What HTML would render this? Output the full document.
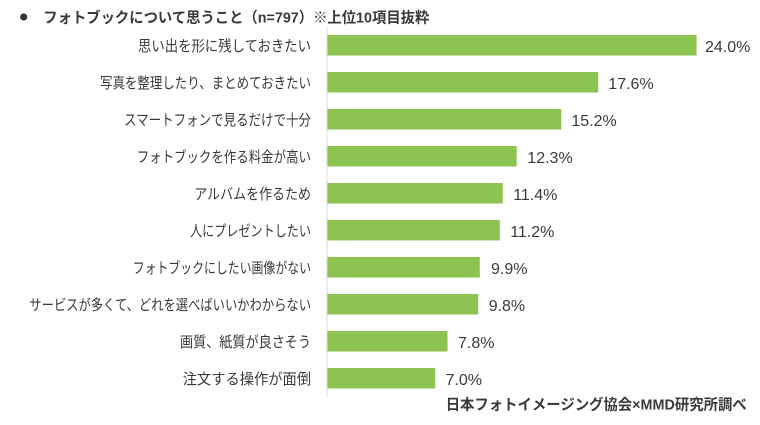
<!DOCTYPE html>
<html><head><meta charset="utf-8"><style>
html,body{margin:0;padding:0;background:#fff;}
svg{display:block;}
text{font-family:"Liberation Sans","Noto Sans CJK JP",sans-serif;fill:#3a3a3a;}
</style></head><body>
<svg width="760" height="425" viewBox="0 0 760 425" xmlns="http://www.w3.org/2000/svg">
<rect width="760" height="425" fill="#fff"/>
<circle cx="23.7" cy="17" r="3.6" fill="#333"/>
<text x="43.3" y="22.5" font-size="15" font-weight="bold" textLength="386" lengthAdjust="spacingAndGlyphs">フォトブックについて思うこと（n=797）※上位10項目抜粋</text>
<line x1="327" y1="27" x2="327" y2="397" stroke="#d9d9d9" stroke-width="1"/>
<g fill="#8dc351">
<rect x="327.5" y="35" width="369.1" height="20.5"/>
<rect x="327.5" y="72" width="270.7" height="20.5"/>
<rect x="327.5" y="109" width="233.8" height="20.5"/>
<rect x="327.5" y="146" width="189.2" height="20.5"/>
<rect x="327.5" y="183" width="175.3" height="20.5"/>
<rect x="327.5" y="220" width="172.3" height="20.5"/>
<rect x="327.5" y="257" width="152.3" height="20.5"/>
<rect x="327.5" y="294" width="150.7" height="20.5"/>
<rect x="327.5" y="331" width="120.0" height="20.5"/>
<rect x="327.5" y="368" width="107.7" height="20.5"/>
</g>
<g font-size="15">
<text x="138" y="51" textLength="173" lengthAdjust="spacingAndGlyphs">思い出を形に残しておきたい</text>
<text x="100" y="88" textLength="211" lengthAdjust="spacingAndGlyphs">写真を整理したり、まとめておきたい</text>
<text x="124" y="125" textLength="187" lengthAdjust="spacingAndGlyphs">スマートフォンで見るだけで十分</text>
<text x="136.7" y="162" textLength="174.3" lengthAdjust="spacingAndGlyphs">フォトブックを作る料金が高い</text>
<text x="194.3" y="199" textLength="116.7" lengthAdjust="spacingAndGlyphs">アルバムを作るため</text>
<text x="190" y="236" textLength="121" lengthAdjust="spacingAndGlyphs">人にプレゼントしたい</text>
<text x="132.7" y="273" textLength="178.3" lengthAdjust="spacingAndGlyphs">フォトブックにしたい画像がない</text>
<text x="29.3" y="310" textLength="281.7" lengthAdjust="spacingAndGlyphs">サービスが多くて、どれを選べばいいかわからない</text>
<text x="180" y="347" textLength="131" lengthAdjust="spacingAndGlyphs">画質、紙質が良さそう</text>
<text x="182.7" y="384" textLength="128.3" lengthAdjust="spacingAndGlyphs">注文する操作が面倒</text>
</g>
<g font-size="16">
<text x="705" y="52">24.0%</text>
<text x="608.3" y="89">17.6%</text>
<text x="571.4" y="126">15.2%</text>
<text x="527.3" y="163">12.3%</text>
<text x="513.2" y="200">11.4%</text>
<text x="510.2" y="237">11.2%</text>
<text x="491" y="274">9.9%</text>
<text x="488.7" y="311">9.8%</text>
<text x="458" y="348">7.8%</text>
<text x="445.5" y="385">7.0%</text>
</g>
<text x="445.7" y="409.5" font-size="15" font-weight="bold" textLength="301" lengthAdjust="spacingAndGlyphs">日本フォトイメージング協会×MMD研究所調べ</text>
</svg>
</body></html>
